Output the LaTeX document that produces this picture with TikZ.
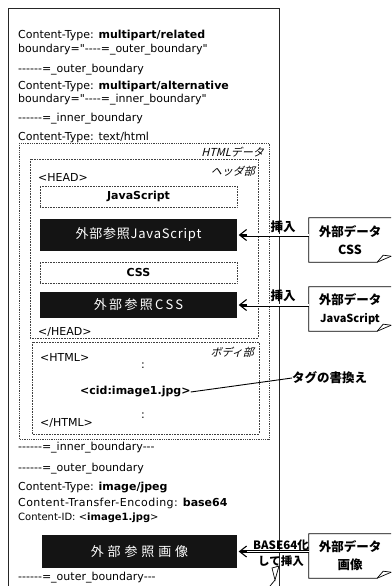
\documentclass[tikz,border=0pt]{standalone}
\usepackage{fontspec}
\setmainfont{DejaVu Sans}[Ligatures=TeXOff]
\newfontfamily\jp{Noto Sans CJK JP}
\newfontfamily\jpit{Noto Sans CJK JP}[FakeSlant=0.25]
\usetikzlibrary{arrows.meta}
\begin{document}
\begin{tikzpicture}[x=1pt,y=-1pt,
  lbl/.style={anchor=west, inner sep=0pt, font=\fontsize{11}{12}\selectfont},
  dotbox/.style={draw=black!75, densely dotted, line width=0.6pt},
  wbox/.style={dotbox, minimum width=197pt, minimum height=21pt, inner sep=0pt, font=\bfseries\fontsize{11}{12}\selectfont},
  bbox/.style={fill=black!92, text=white, minimum width=197pt, inner sep=0pt, font=\jp\fontsize{13}{14}\selectfont},
  ext/.style={minimum width=82pt, minimum height=44pt, inner sep=0pt, align=center, font=\jp\bfseries\fontsize{12.5}{18}\selectfont},
  ins/.style={draw=black, double=white, double distance=1.6pt, line width=0.7pt},
  tip/.style={line width=1.1pt, -{Straight Barb[length=7pt,width=11pt]}},
  itl/.style={anchor=east, inner sep=0pt, font=\jpit\fontsize{11}{12}\selectfont},
  callout/.style={font=\jp\bfseries\fontsize{12.5}{14}\selectfont, inner sep=0pt, align=center}
]
\useasboundingbox (0,0) rectangle (391,586);

% outer box
\coordinate (oTL) at (8,8);
\coordinate (oTR) at (279,8);
\coordinate (oBL) at (8,586);
\coordinate (oBR) at (279,586);
\draw[line width=0.9pt, black!85] (oBL) -- (oTL) -- (oTR) -- (oBR);

% header lines
\node[lbl] (l1) at (18,35) {Content-Type: \textbf{multipart/related}};
\node[lbl] (l2) at (18,50) {boundary="----=\_outer\_boundary"};
\node[lbl] (l3) at (18,70) {------=\_outer\_boundary};
\node[lbl] (l4) at (18,86) {Content-Type: \textbf{multipart/alternative}};
\node[lbl] (l5) at (18,100) {boundary="----=\_inner\_boundary"};
\node[lbl] (l6) at (18,119) {------=\_inner\_boundary};
\node[lbl] (l7) at (18,137) {Content-Type: text/html};

% HTML data box
\draw[dotbox, line width=0.8pt] (19,143) rectangle (269,439);
\node[itl] (htmllbl) at (264,152) {HTMLデータ};

% header part
\draw[dotbox] (30,159) rectangle (258,338);
\node[itl] (headlbl) at (255,171) {ヘッダ部};
\node[lbl] (head) at (38,177) {<HEAD>};
\node[wbox] (js) at (138.5,196.5) {JavaScript};
\node[bbox, minimum height=32pt, font=\jp\fontsize{13}{14}\selectfont\addfontfeature{LetterSpace=6}] (bk1) at (138.5,235) {外部参照JavaScript};
\node[wbox] (css) at (138.5,272.5) {CSS};
\node[bbox, minimum height=26pt, font=\jp\fontsize{13}{14}\selectfont\addfontfeature{LetterSpace=18}] (bk2) at (138.5,305) {外部参照CSS};
\node[lbl] (ehead) at (38,332) {</HEAD>};

% body part
\draw[dotbox] (32,342) rectangle (259,434);
\node[itl] (bodylbl) at (254,352) {ボディ部};
\node[lbl] (html) at (40,357) {<HTML>};
\node[lbl] (d1) at (141,366) {:};
\node[lbl, font=\bfseries\fontsize{11}{12}\selectfont] (cid) at (80,392) {<cid:image1.jpg>};
\node[lbl] (d2) at (141,416) {:};
\node[lbl] (ehtml) at (40,423) {</HTML>};

% trailing lines
\node[lbl] (l8) at (18,448) {------=\_inner\_boundary---};
\node[lbl] (l9) at (18,469) {------=\_outer\_boundary};
\node[lbl] (l10) at (18,488) {Content-Type: \textbf{image/jpeg}};
\node[lbl] (l11) at (18,503) {{\addfontfeature{LetterSpace=4}Content-Transfer-Encoding:} \textbf{base64}};
\node[lbl, font=\fontsize{10}{12}\selectfont] (l12) at (18,518) {Content-ID: <\textbf{image1.jpg}>};
\node[bbox, minimum width=195pt, minimum height=33pt, font=\jp\fontsize{13}{14}\selectfont\addfontfeature{LetterSpace=30}] (bk3) at (139.5,551.5) {外部参照画像};
\node[lbl] (l13) at (18,578) {------=\_outer\_boundary---};

% external data boxes
\node[ext] (ext1) at (350,240) {外部データ\\CSS};
\node[ext] (ext2) at (350,309) {外部データ\\{\fontsize{11}{12}\selectfont JavaScript}};
\node[ext] (ext3) at (350,556) {外部データ\\画像};
\foreach \e in {ext1,ext2,ext3}{
  \draw[line width=0.7pt] (\e.north east) -- (\e.north west) -- (\e.south west)
     -- ([xshift=-14pt]\e.south east) -- ([xshift=-8pt,yshift=7pt]\e.south east)
     -- ([yshift=6pt]\e.south east);
  \draw[line width=0.7pt] ([xshift=-14pt]\e.south east) -- ([yshift=6pt]\e.south east);
}

% insert arrows
\draw[ins] (ext1.west |- bk1.east) -- ([xshift=4pt]bk1.east);
\draw[tip] ([xshift=10pt]bk1.east) -- ([xshift=1.5pt]bk1.east);
\node[callout] (ins1) at (283,227) {挿入};

\draw[ins] (ext2.west |- bk2.east) -- ([xshift=4pt]bk2.east);
\draw[tip] ([xshift=10pt]bk2.east) -- ([xshift=1.5pt]bk2.east);
\node[callout] (ins2) at (283,296) {挿入};

\draw[ins] (ext3.west |- bk3.east) -- ([xshift=4pt]bk3.east);
\draw[tip] ([xshift=10pt]bk3.east) -- ([xshift=1.5pt]bk3.east);
\node[callout, font=\jp\bfseries\fontsize{11.5}{16}\selectfont] (ins3) at (281,553) {BASE64化\\して挿入};

% small pointer fragment
\coordinate (p1) at (272,568);
\coordinate (p2) at (279,566);
\coordinate (p3) at (275,580);
\coordinate (p4) at (270,586);
\draw[line width=0.7pt] (p1) -- (p2) -- (p3) -- cycle;
\draw[line width=0.7pt] (p3) -- (p4);

% tag rewrite callout
\node[callout, anchor=west] (tag) at (292,378) {タグの書換え};
\draw[line width=0.9pt] (tag.west) -- (cid.east);
\end{tikzpicture}
\end{document}
